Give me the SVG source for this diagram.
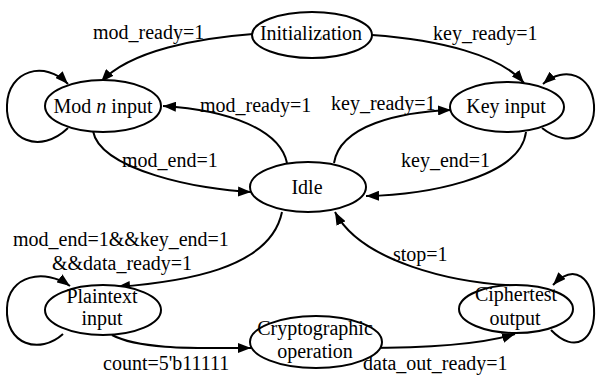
<svg xmlns="http://www.w3.org/2000/svg" width="596" height="378" viewBox="0 0 596 378">
<defs>
<marker id="ah" markerUnits="userSpaceOnUse" markerWidth="14" markerHeight="10" refX="13" refY="5" orient="auto">
<path d="M0,0 L13,5 L0,10 z" fill="#000"/>
</marker>
<style>
.n ellipse{fill:#fff;stroke:#000;stroke-width:2}
text{font-family:'Liberation Serif','Times New Roman',serif;font-size:20px;fill:#000}
.c{text-anchor:middle}
.e path{fill:none;stroke:#000;stroke-width:2;marker-end:url(#ah)}
</style>
</defs>
<rect width="596" height="378" fill="#fff"/>
<g class="e" id="connectors">
<path d="M253,34 C200,38 130,50 101,82"/>
<path d="M372,35 C440,40 500,55 524,83"/>
<path d="M68,128 C40,155 5,140 7,105 C8,70 45,60 68,84"/>
<path d="M542,128 C570,150 596,135 594,105 C592,75 565,65 543,84"/>
<path d="M287,163 C280,130 230,110 163,106"/>
<path d="M334,163 C340,125 400,112 451,110"/>
<path d="M93,131 C100,170 200,190 251,192"/>
<path d="M526,132 C520,180 420,195 366,196"/>
<path d="M282,212 C270,270 180,282 117,287"/>
<path d="M63,334 C40,355 5,345 7,308 C8,275 45,268 70,286"/>
<path d="M112,335 C140,350 200,348 251,348"/>
<path d="M363,348 C420,348 480,345 515,334"/>
<path d="M530,286 C450,285 360,260 335,212"/>
<path d="M551,330 C575,355 596,340 594,308 C592,278 575,262 553,285"/>
</g>
<g id="labels">
<text x="93" y="39">mod_ready=1</text>
<text x="433" y="40">key_ready=1</text>
<text x="200" y="112">mod_ready=1</text>
<text x="331" y="110">key_ready=1</text>
<text x="122" y="167">mod_end=1</text>
<text x="401" y="167">key_end=1</text>
<text x="13" y="246">mod_end=1&amp;&amp;key_end=1</text>
<text x="52" y="270">&amp;&amp;data_ready=1</text>
<text x="393" y="261">stop=1</text>
<text x="103" y="370">count=5'b11111</text>
<text x="363" y="370">data_out_ready=1</text>
</g>
<g class="n" id="init"><ellipse cx="312" cy="35" rx="60" ry="23"/><text class="c" x="311" y="40">Initialization</text></g>
<g class="n" id="mod"><ellipse cx="103" cy="106" rx="58" ry="26"/><text class="c" x="103" y="113">Mod <tspan font-style="italic">n</tspan> input</text></g>
<g class="n" id="key"><ellipse cx="507" cy="107" rx="57" ry="25"/><text class="c" x="506" y="113">Key input</text></g>
<g class="n" id="idle"><ellipse cx="308" cy="187" rx="58" ry="25"/><text class="c" x="307" y="194">Idle</text></g>
<g class="n" id="plain"><ellipse cx="103" cy="310" rx="58" ry="25"/><text class="c" x="102" y="303">Plaintext</text><text class="c" x="102" y="325">input</text></g>
<g class="n" id="crypto"><ellipse cx="316" cy="342" rx="66" ry="26"/><text class="c" x="315" y="335">Cryptographic</text><text class="c" x="315" y="358">operation</text></g>
<g class="n" id="cipher"><ellipse cx="516" cy="309" rx="57" ry="24"/><text class="c" x="516" y="301">Ciphertest</text><text class="c" x="515" y="325">output</text></g>
</svg>
